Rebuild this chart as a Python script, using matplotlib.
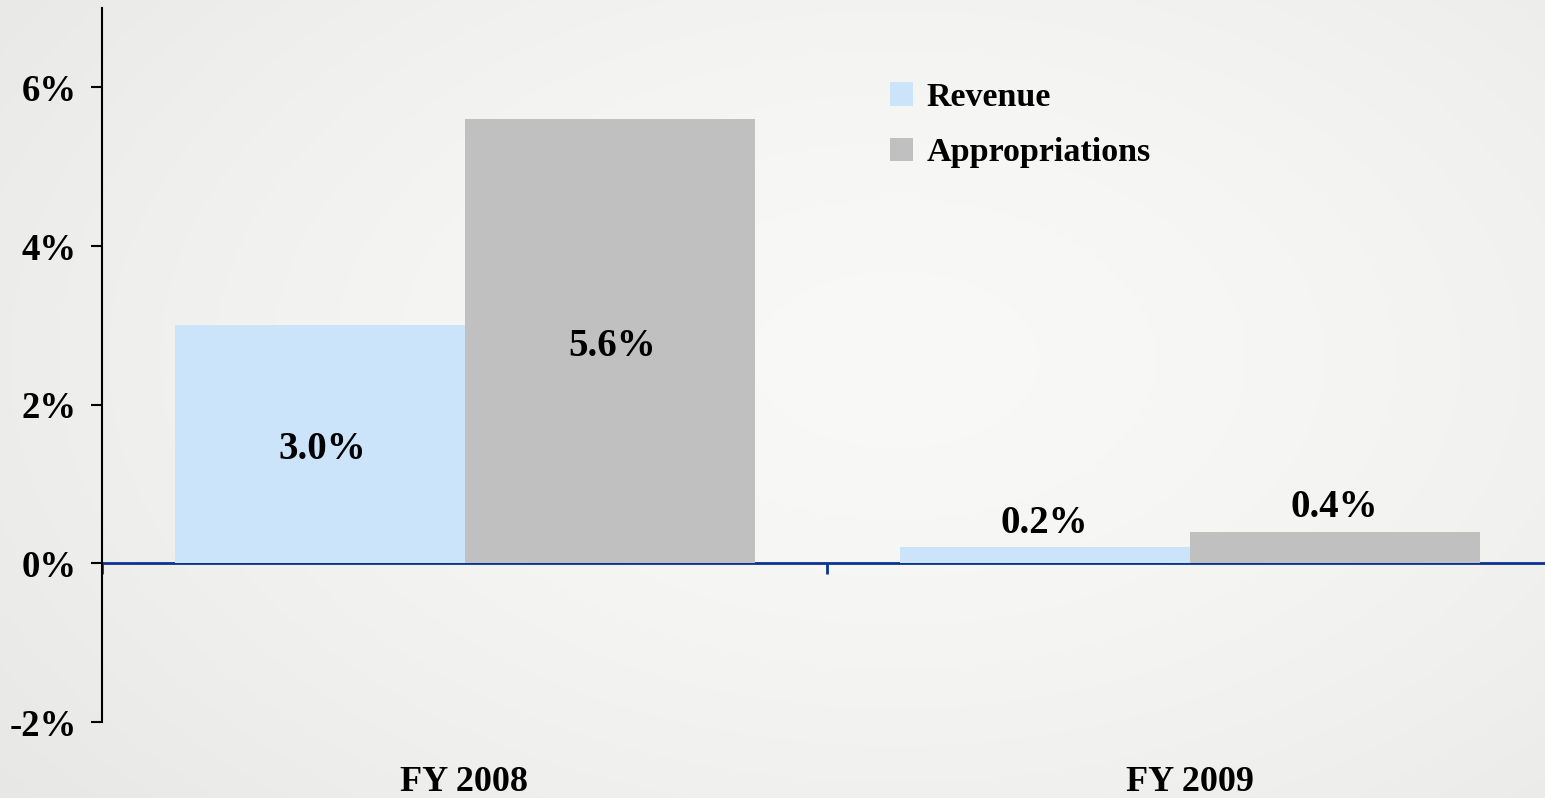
import matplotlib
matplotlib.use('Agg')
import matplotlib.pyplot as plt
import numpy as np

categories = ['FY 2008', 'FY 2009']
series_names = ['Revenue', 'Appropriations']
revenue = [3.0, 0.2]
appropriations = [5.6, 0.4]
y_ticks = [-2, 0, 2, 4, 6]

COLORS = ['#cce4fa', '#c0c0c0']
AXIS_BLUE = '#0a3490'

plt.rcParams['font.family'] = ['Liberation Serif', 'DejaVu Serif']
plt.rcParams['font.weight'] = 'bold'

W, H = 1545, 798
fig = plt.figure(figsize=(W / 100, H / 100), dpi=100)

# light gray background, lighter in the middle
yy, xx = np.mgrid[0:H, 0:W]
r = np.sqrt(((xx - 0.58 * W) / (0.75 * W)) ** 2 + ((yy - 0.45 * H) / (0.9 * H)) ** 2)
shade = np.clip(0.975 - 0.07 * r ** 1.6, 0.89, 0.98)
bg = np.dstack([shade, shade, shade * 0.995])
bg_ax = fig.add_axes([0, 0, 1, 1], zorder=-10)
bg_ax.imshow(bg, aspect='auto')
bg_ax.axis('off')

# plot area runs slightly past the right edge of the picture
ax = fig.add_axes([102 / W, (H - 722) / H, 1450 / W, (722 - 8) / H])
ax.set_facecolor('none')

x = np.arange(len(categories))
width = 0.4
data = [revenue, appropriations]
for i, (name, vals) in enumerate(zip(series_names, data)):
    pos = x + (i - 0.5) * width
    bars = ax.bar(pos, vals, width, color=COLORS[i], label=name, zorder=2)
    for b, v in zip(bars, vals):
        cx = b.get_x() + b.get_width() / 2
        if v > 1:
            ax.annotate(f'{v:.1f}%', (cx, v / 2), xytext=(2, -4), textcoords='offset points',
                        ha='center', va='center', fontsize=28, fontweight='bold', zorder=3)
        else:
            ax.annotate(f'{v:.1f}%', (cx, v), xytext=(0, 4), textcoords='offset points',
                        ha='center', va='bottom', fontsize=28, fontweight='bold', zorder=3)

ax.set_xlim(-0.5, 1.5)
ax.set_ylim(-2, 7)
ax.set_yticks(y_ticks)
ax.set_yticklabels([f'{t}%' for t in y_ticks])
ax.tick_params(axis='y', direction='out', length=8, width=1.5, pad=10, labelsize=26.5)

for s in ['top', 'right', 'bottom']:
    ax.spines[s].set_visible(False)
ax.spines['left'].set_linewidth(1.5)
ax.spines['left'].set_bounds(-2, 7)

ax.set_xticks(x)
ax.set_xticklabels(categories)
ax.tick_params(axis='x', length=0, pad=32, labelsize=26)

# zero line with its own ticks
zero = ax.secondary_xaxis(2 / 9)
zero.set_xticks([-0.5, 0.5])
zero.set_xticklabels(['', ''])
zero.tick_params(length=8, width=2, color=AXIS_BLUE)
zero.spines['bottom'].set_color(AXIS_BLUE)
zero.spines['bottom'].set_linewidth(2)

ax.legend(loc='upper left', bbox_to_anchor=(890 / W, 1 - 82 / H), bbox_transform=fig.transFigure,
          frameon=False, handlelength=0.68, handleheight=0.68,
          handletextpad=0.4, labelspacing=0.72, borderpad=0, borderaxespad=0,
          prop={'weight': 'bold', 'size': 24.5})

fig.savefig('out.png', dpi=100)
